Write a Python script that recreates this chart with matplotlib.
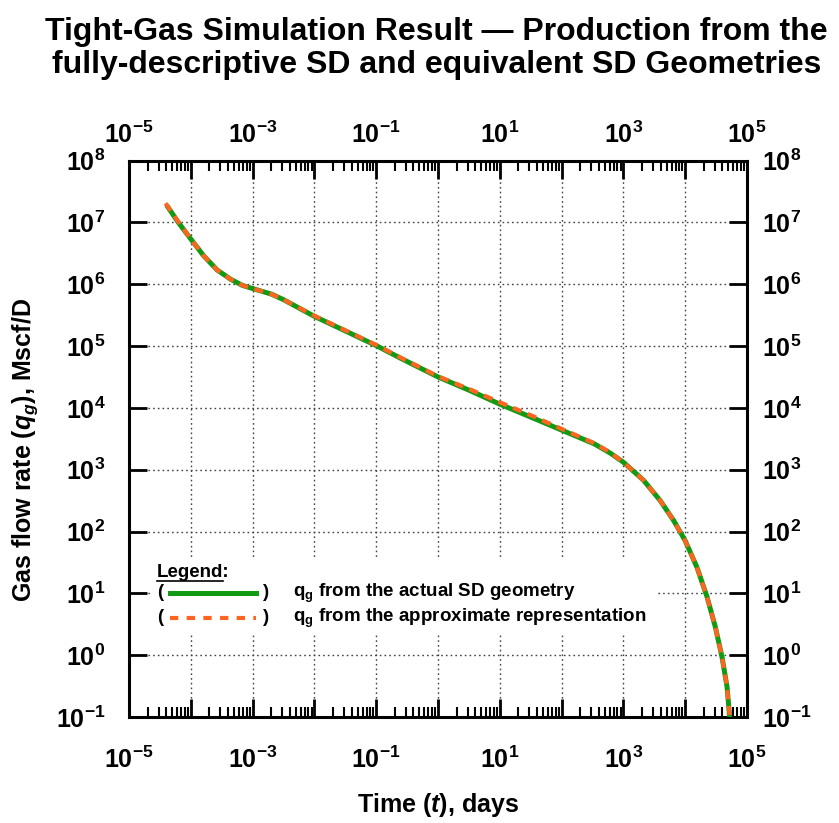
import matplotlib
matplotlib.use("Agg")
import matplotlib.pyplot as plt
import matplotlib.ticker as ticker
from matplotlib.lines import Line2D
from matplotlib.patches import Rectangle
import numpy as np

plt.rcParams['font.family'] = ['Liberation Sans', 'DejaVu Sans']
plt.rcParams['mathtext.fontset'] = 'custom'
plt.rcParams['mathtext.rm'] = 'Liberation Sans:bold'
plt.rcParams['mathtext.bf'] = 'Liberation Sans:bold'
plt.rcParams['mathtext.it'] = 'Liberation Sans:italic:bold'

# production history, log10 of time (days) and log10 of gas rate (Mscf/D)
log_t_actual = [-4.393, -4.203, -4.0, -3.793, -3.574, -3.355, -3.164, -3.0, -2.697, -2.5, -2.0,
                -1.47, -0.985, -0.6, 0.0, 0.515, 1.0, 1.527, 2.0, 2.525, 2.784, 3.0, 3.324,
                3.595, 3.811, 4.0, 4.19, 4.352, 4.486, 4.595, 4.676, 4.719, 4.74]
log_q_actual = [7.28, 7.0, 6.73, 6.46, 6.23, 6.08, 5.98, 5.93, 5.84, 5.75, 5.48,
                5.23, 5.0, 4.80, 4.50, 4.28, 4.06, 3.84, 3.64, 3.42, 3.27, 3.12, 2.83,
                2.50, 2.18, 1.85, 1.42, 0.945, 0.46, -0.03, -0.51, -1.0, -1.2]

log_t_approx = [-4.41, -4.203, -4.0, -3.793, -3.574, -3.355, -3.164, -3.0, -2.697, -2.5, -2.0,
                -1.47, -0.985, -0.6, 0.0, 0.515, 1.0, 1.527, 2.0, 2.525, 2.784, 3.0, 3.324,
                3.595, 3.811, 4.0, 4.19, 4.352, 4.486, 4.595, 4.676, 4.719, 4.74]
log_q_approx = [7.31, 7.01, 6.73, 6.46, 6.23, 6.08, 5.98, 5.93, 5.84, 5.75, 5.49,
                5.24, 5.01, 4.81, 4.51, 4.30, 4.09, 3.87, 3.66, 3.43, 3.28, 3.12, 2.83,
                2.50, 2.18, 1.85, 1.42, 0.945, 0.46, -0.03, -0.51, -1.0, -1.2]

x_min, x_max = 1e-5, 1e5
y_min, y_max = 1e-1, 1e8

title = "Tight-Gas Simulation Result \u2014 Production from the\nfully-descriptive SD and equivalent SD Geometries"
legend_labels = [r"$\mathbf{q_g}$ from the actual SD geometry",
                 r"$\mathbf{q_g}$ from the approximate representation"]

green = '#139a13'
orange = '#ff6421'

fig = plt.figure(figsize=(8.39, 8.23), dpi=100)
ax = fig.add_axes([0.1538, 0.1288, 0.7366, 0.6761])

t_a = 10 ** np.array(log_t_actual)
q_a = 10 ** np.array(log_q_actual)
t_b = 10 ** np.array(log_t_approx)
q_b = 10 ** np.array(log_q_approx)

ax.plot(t_a, q_a, color=green, lw=3.6, solid_capstyle='butt', solid_joinstyle='round', zorder=3)
ax.plot(t_b, q_b, color=orange, lw=3.0, dashes=(2.2, 1.6), zorder=4)

ax.set_xscale('log')
ax.set_yscale('log')
ax.set_xlim(x_min, x_max)
ax.set_ylim(y_min, y_max)

def dec_label(v, pos):
    e = int(round(np.log10(v)))
    return r'$\mathbf{10^{%d}}$' % e

def odd_dec_label(v, pos):
    e = int(round(np.log10(v)))
    if e % 2 == 0:
        return ''
    return r'$\mathbf{10^{%d}}$' % e

def setup_x(a):
    a.xaxis.set_major_locator(ticker.LogLocator(base=10, numticks=20))
    a.xaxis.set_minor_locator(ticker.LogLocator(base=10, subs=np.arange(2, 10), numticks=20))
    a.xaxis.set_major_formatter(ticker.FuncFormatter(odd_dec_label))
    a.xaxis.set_minor_formatter(ticker.NullFormatter())

def setup_y(a):
    a.yaxis.set_major_locator(ticker.LogLocator(base=10, numticks=20))
    a.yaxis.set_minor_locator(ticker.NullLocator())
    a.yaxis.set_major_formatter(ticker.FuncFormatter(dec_label))

setup_x(ax)
setup_y(ax)

ax.tick_params(axis='both', which='major', direction='in', length=13, width=2,
               labelsize=18, top=True, right=True, labeltop=False, labelright=False)
ax.tick_params(axis='x', which='major', pad=21)
ax.tick_params(axis='y', which='major', pad=17)
ax.tick_params(axis='x', which='minor', direction='in', length=7, width=1.5, top=True)

# labels on the top and right edges get their own padding
top = ax.secondary_xaxis('top')
setup_x(top)
top.tick_params(axis='x', which='both', length=0, labelsize=18, pad=9)
right = ax.secondary_yaxis('right')
setup_y(right)
right.tick_params(axis='y', which='both', length=0, labelsize=18, pad=11)
for sec in (top, right):
    for s in sec.spines.values():
        s.set_visible(False)

for s in ax.spines.values():
    s.set_linewidth(2.2)

ax.set_axisbelow(True)
ax.grid(True, which='major', color='#444444', linestyle=(0, (1.2, 2.2)), linewidth=1.0)

# legend block drawn by hand on a white patch
ax.add_patch(Rectangle((0.037, 0.151), 0.817, 0.137, transform=ax.transAxes,
                       facecolor='white', edgecolor='none', zorder=1))
ax.text(0.045, 0.252, "Legend:", transform=ax.transAxes, fontsize=13.5,
        fontweight='bold', va='baseline', ha='left', zorder=5)
ax.add_line(Line2D([0.045, 0.152], [0.244, 0.244], transform=ax.transAxes,
                   color='black', lw=1.2, zorder=5))

rows_y = [0.223, 0.178]
styles = [dict(color=green, lw=3.6), dict(color=orange, lw=3.0, dashes=(2.0, 2.0))]
for y, st, lab in zip(rows_y, styles, legend_labels):
    ax.text(0.050, y, "(", transform=ax.transAxes, fontsize=13.5, fontweight='bold',
            va='center', ha='center', zorder=5)
    ax.add_line(Line2D([0.066, 0.206], [y, y], transform=ax.transAxes, zorder=5, **st))
    ax.text(0.222, y, ")", transform=ax.transAxes, fontsize=13.5, fontweight='bold',
            va='center', ha='center', zorder=5)
    ax.text(0.265, y, lab, transform=ax.transAxes, fontsize=13.5, fontweight='bold',
            va='center', ha='left', zorder=5)

ax.set_xlabel(r"Time ($t$), days", fontsize=18, fontweight='bold', va='center')
ax.xaxis.set_label_coords(0.5, -0.158)
ax.set_ylabel(r"Gas flow rate ($q_g$), Mscf/D", fontsize=18, fontweight='bold', va='center')
ax.yaxis.set_label_coords(-0.168, 0.48)

fig.text(0.52, 0.941, title, ha='center', va='center', fontsize=23, fontweight='bold',
         linespacing=1.12)

fig.savefig('out.png', dpi=100)
